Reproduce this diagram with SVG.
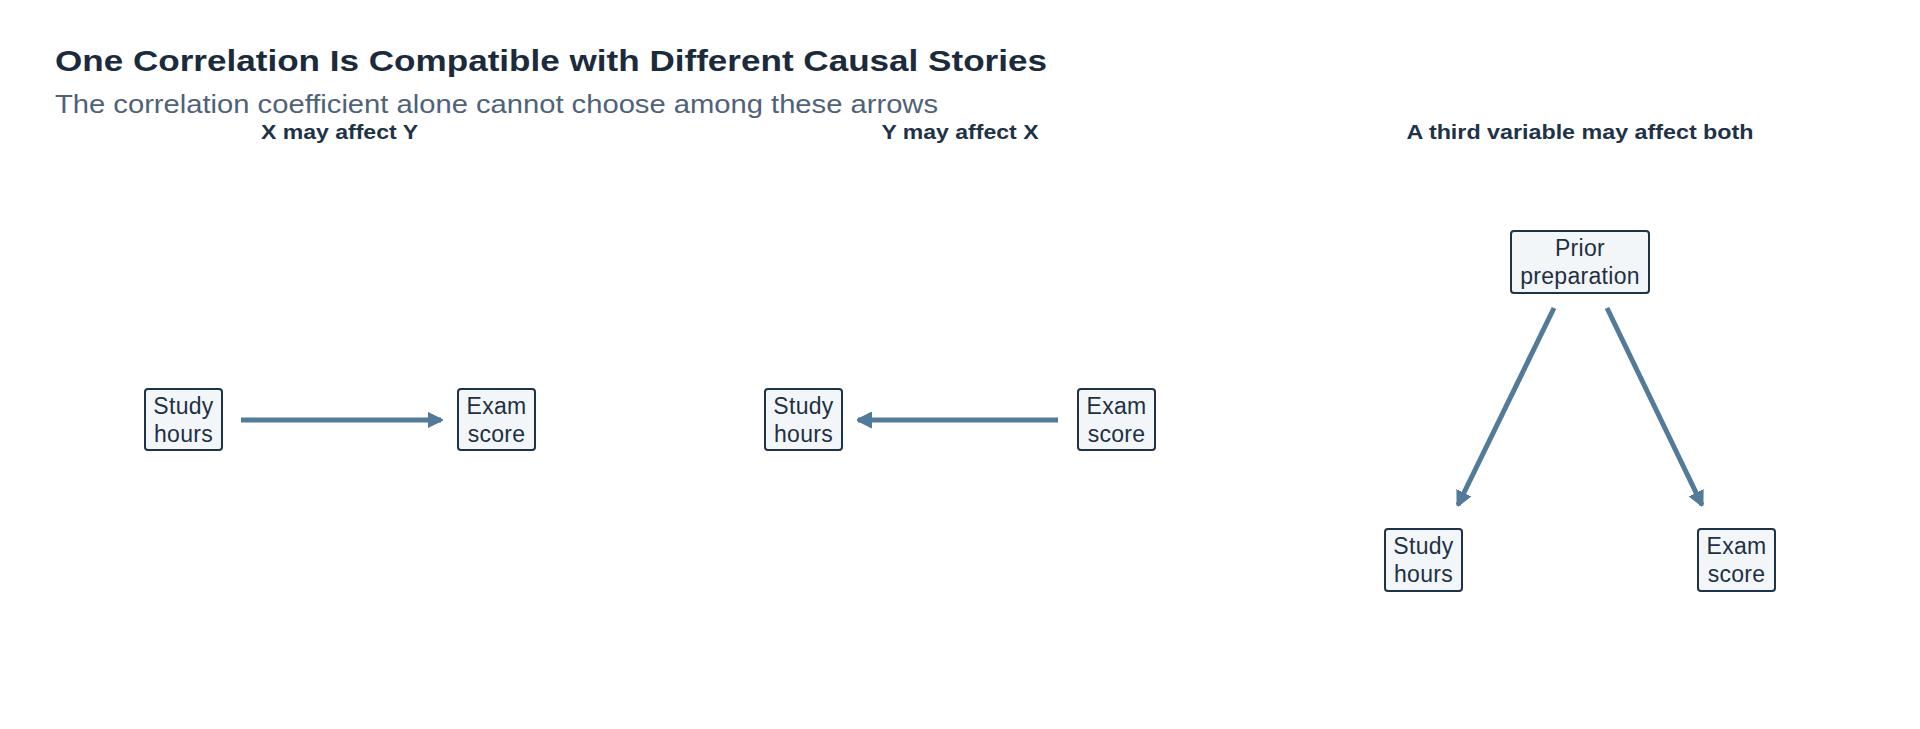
<svg xmlns="http://www.w3.org/2000/svg" width="1920" height="729" viewBox="0 0 1920 729">
<style>
text{font-family:"Liberation Sans",Arial,sans-serif}
.title{font-size:30px;font-weight:bold;fill:#1b2b3c}
.sub{font-size:26.5px;fill:#4f6278}
.ptitle{font-size:20px;font-weight:bold;fill:#1f3347;text-anchor:middle}
.box{fill:#f3f6f9;stroke:#1f3347;stroke-width:2}
.lbl{font-size:23px;fill:#1f3044;text-anchor:middle;letter-spacing:0.3px}
.edge{stroke:#527a99;stroke-width:5;fill:none;marker-end:url(#ah)}
</style>
<defs>
<marker id="ah" viewBox="0 0 10 10" refX="9" refY="5" markerWidth="3" markerHeight="3.4" orient="auto" markerUnits="strokeWidth">
<path d="M0,0 L10,5 L0,10 z" fill="#527a99" stroke="#527a99" stroke-width="1" stroke-linejoin="round"/>
</marker>
</defs>
<rect width="1920" height="729" fill="#ffffff"/>
<text class="title" x="55" y="71" textLength="992" lengthAdjust="spacingAndGlyphs">One Correlation Is Compatible with Different Causal Stories</text>
<text class="sub" x="55" y="113" textLength="883" lengthAdjust="spacingAndGlyphs">The correlation coefficient alone cannot choose among these arrows</text>
<text class="ptitle" x="339.5" y="139" textLength="157" lengthAdjust="spacingAndGlyphs">X may affect Y</text>
<text class="ptitle" x="960" y="139" textLength="157" lengthAdjust="spacingAndGlyphs">Y may affect X</text>
<text class="ptitle" x="1580" y="139" textLength="347" lengthAdjust="spacingAndGlyphs">A third variable may affect both</text>
<g id="connectors">
<line class="edge" x1="241" y1="420" x2="441" y2="420"/>
<line class="edge" x1="1058" y1="420" x2="858" y2="420"/>
<line class="edge" x1="1554" y1="308" x2="1458" y2="505"/>
<line class="edge" x1="1607" y1="308" x2="1702" y2="505"/>
</g>
<g id="p1-study">
<rect class="box" x="145" y="389" width="77" height="61" rx="3"/>
<text class="lbl" x="183.5" y="414">Study</text>
<text class="lbl" x="183.5" y="442">hours</text>
</g>
<g id="p1-exam">
<rect class="box" x="458" y="389" width="77" height="61" rx="3"/>
<text class="lbl" x="496.5" y="414">Exam</text>
<text class="lbl" x="496.5" y="442">score</text>
</g>
<g id="p2-study">
<rect class="box" x="765" y="389" width="77" height="61" rx="3"/>
<text class="lbl" x="803.5" y="414">Study</text>
<text class="lbl" x="803.5" y="442">hours</text>
</g>
<g id="p2-exam">
<rect class="box" x="1078" y="389" width="77" height="61" rx="3"/>
<text class="lbl" x="1116.5" y="414">Exam</text>
<text class="lbl" x="1116.5" y="442">score</text>
</g>
<g id="p3-prior">
<rect class="box" x="1511" y="231" width="138" height="62" rx="3"/>
<text class="lbl" x="1580" y="256">Prior</text>
<text class="lbl" x="1580" y="284">preparation</text>
</g>
<g id="p3-study">
<rect class="box" x="1385" y="529" width="77" height="62" rx="3"/>
<text class="lbl" x="1423.5" y="554">Study</text>
<text class="lbl" x="1423.5" y="582">hours</text>
</g>
<g id="p3-exam">
<rect class="box" x="1698" y="529" width="77" height="62" rx="3"/>
<text class="lbl" x="1736.5" y="554">Exam</text>
<text class="lbl" x="1736.5" y="582">score</text>
</g>
</svg>
